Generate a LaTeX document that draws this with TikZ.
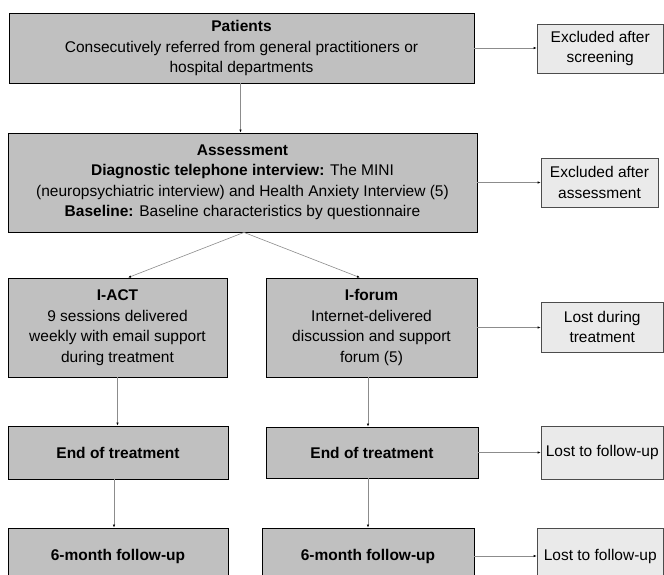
\documentclass[tikz,border=0pt]{standalone}
\usepackage{fontspec}
\setmainfont{Liberation Sans}
\usetikzlibrary{arrows.meta}
\definecolor{boxdark}{HTML}{C0C0C0}
\definecolor{boxlight}{HTML}{EAEAEA}
\definecolor{linegray}{HTML}{8C8C8C}
\begin{document}
\begin{tikzpicture}[x=1pt,y=-1pt,
  font=\fontsize{15.5}{20.5}\selectfont,
  darkbox/.style={draw=black, line width=0.8pt, fill=boxdark, align=center, inner sep=0pt},
  lightbox/.style={draw=black!70, line width=0.6pt, fill=boxlight, align=center, inner sep=0pt},
  conn/.style={draw=linegray, line width=0.6pt, -{Latex[length=3pt,width=2.4pt,fill=black,color=black]}}]
\useasboundingbox (0,0) rectangle (664,574);
\clip (0,0) rectangle (664,574);
\fill[white] (0,0) rectangle (664,574);

\node[darkbox, minimum width=465pt, minimum height=70pt] (pat) at (241.5,48)
  {\textbf{Patients}\\Consecutively referred from general practitioners or\\hospital departments};
\node[lightbox, minimum width=126.5pt, minimum height=49pt] (scr) at (600.25,48.5)
  {Excluded after\\screening};

\node[darkbox, minimum width=469pt, minimum height=99pt] (ass) at (242.5,182.5)
  {\textbf{Assessment}\\\textbf{Diagnostic telephone interview:} The MINI\\(neuropsychiatric interview) and Health Anxiety Interview (5)\\\textbf{Baseline:} Baseline characteristics by questionnaire};
\node[lightbox, minimum width=117pt, minimum height=49pt] (exa) at (599.5,182.5)
  {Excluded after\\assessment};

\node[darkbox, minimum width=219pt, minimum height=99pt] (iact) at (117.5,327.5)
  {\textbf{I-ACT}\\9 sessions delivered\\weekly with email support\\during treatment};
\node[darkbox, minimum width=211pt, minimum height=99pt] (ifor) at (371.5,327.5)
  {\textbf{I-forum}\\Internet-delivered\\discussion and support\\forum (5)};
\node[lightbox, minimum width=122.5pt, minimum height=50pt] (ldt) at (602.25,327)
  {Lost during\\treatment};

\node[darkbox, minimum width=220pt, minimum height=53pt] (endl) at (118,452.5)
  {\textbf{End of treatment}};
\node[darkbox, minimum width=212pt, minimum height=51pt] (endr) at (372,452.5)
  {\textbf{End of treatment}};
\node[lightbox, minimum width=122.5pt, minimum height=53pt] (ltfa) at (602.25,452.5)
  {Lost to follow-up};

\node[darkbox, minimum width=220pt, minimum height=56pt] (sixl) at (118,556)
  {\textbf{6-month follow-up}};
\node[darkbox, minimum width=212pt, minimum height=56pt] (sixr) at (368,556)
  {\textbf{6-month follow-up}};
\node[lightbox, minimum width=126.5pt, minimum height=56pt] (ltfb) at (600.25,556)
  {Lost to follow-up};

\draw[conn] (pat.east) -- (pat.east -| scr.west);
\draw[conn] ([xshift=-1pt]pat.south) -- ([xshift=-1pt]pat.south |- ass.north);
\draw[conn] (ass.east) -- (ass.east -| exa.west);
\draw[conn] ([xshift=1.5pt]ass.south) -- ([xshift=10.5pt]iact.north);
\draw[conn] ([xshift=1.5pt]ass.south) -- ([xshift=-11.5pt]ifor.north);
\draw[conn] (ifor.east) -- (ifor.east -| ldt.west);
\draw[conn] (iact.south) -- (iact.south |- endl.north);
\draw[conn] ([xshift=-3.5pt]ifor.south) -- ([xshift=-3.5pt]ifor.south |- endr.north);
\draw[conn] (endr.east) -- (endr.east -| ltfa.west);
\draw[conn] ([xshift=-4pt]endl.south) -- ([xshift=-4pt]endl.south |- sixl.north);
\draw[conn] ([xshift=-4pt]endr.south) -- ([xshift=-4pt]endr.south |- sixr.north);
\draw[conn] (sixr.east) -- (sixr.east -| ltfb.west);
\end{tikzpicture}
\end{document}
